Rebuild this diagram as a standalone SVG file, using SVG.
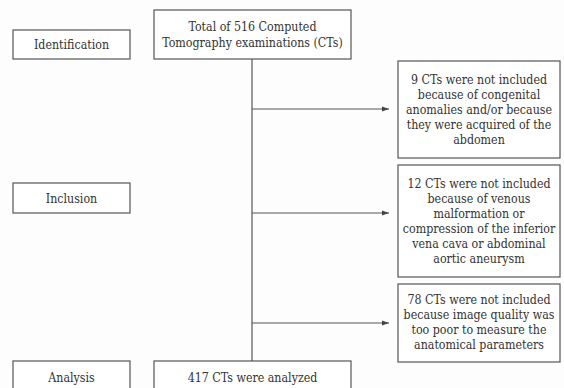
<svg xmlns="http://www.w3.org/2000/svg" width="564" height="388" viewBox="0 0 564 388">
<style>
.box{fill:#fff;stroke:#555;stroke-width:1.2}
.t{font-family:'DejaVu Serif Condensed','DejaVu Serif',serif;font-stretch:condensed;font-size:12.3px;fill:#333;text-anchor:middle}
.c{stroke:#555;stroke-width:1.2;fill:none}
</style>
<defs>
<marker id="ah" markerWidth="8" markerHeight="6" refX="7" refY="3" orient="auto" markerUnits="userSpaceOnUse">
<path d="M0,0.5 L7,3 L0,5.5 Z" fill="#444"/>
</marker>
</defs>
<rect width="564" height="388" fill="#fdfdfd"/>
<g id="connectors">
<line class="c" x1="252" y1="59" x2="252" y2="361"/>
<line class="c" x1="252" y1="109" x2="389" y2="109" marker-end="url(#ah)"/>
<line class="c" x1="252" y1="213" x2="389" y2="213" marker-end="url(#ah)"/>
<line class="c" x1="252" y1="323" x2="389" y2="323" marker-end="url(#ah)"/>
</g>
<g id="identification">
<rect class="box" x="13" y="30" width="117" height="29"/>
<text class="t" x="71.5" y="48.5">Identification</text>
</g>
<g id="inclusion">
<rect class="box" x="13" y="183" width="117" height="30"/>
<text class="t" x="71.5" y="202.5">Inclusion</text>
</g>
<g id="analysis">
<rect class="box" x="13" y="361" width="117" height="40"/>
<text class="t" x="71.5" y="382">Analysis</text>
</g>
<g id="total">
<rect class="box" x="154" y="10" width="197" height="49"/>
<text class="t" x="252.5" y="30.5">Total of 516 Computed</text>
<text class="t" x="252.5" y="46.5">Tomography examinations (CTs)</text>
</g>
<g id="analyzed">
<rect class="box" x="154" y="361" width="197" height="40"/>
<text class="t" x="252.5" y="382">417 CTs were analyzed</text>
</g>
<g id="excl1">
<rect class="box" x="398" y="61" width="162" height="97"/>
<text class="t" x="479" y="83.5">9 CTs were not included</text>
<text class="t" x="479" y="98.5">because of congenital</text>
<text class="t" x="479" y="113.5">anomalies and/or because</text>
<text class="t" x="479" y="128.5">they were acquired of the</text>
<text class="t" x="479" y="143.5">abdomen</text>
</g>
<g id="excl2">
<rect class="box" x="398" y="165" width="162" height="112"/>
<text class="t" x="479" y="187.5">12 CTs were not included</text>
<text class="t" x="479" y="202.5">because of venous</text>
<text class="t" x="479" y="217.5">malformation or</text>
<text class="t" x="479" y="232.5">compression of the inferior</text>
<text class="t" x="479" y="247.5">vena cava or abdominal</text>
<text class="t" x="479" y="262.5">aortic aneurysm</text>
</g>
<g id="excl3">
<rect class="box" x="398" y="284" width="162" height="78"/>
<text class="t" x="479" y="303.5">78 CTs were not included</text>
<text class="t" x="479" y="318.5">because image quality was</text>
<text class="t" x="479" y="333.5">too poor to measure the</text>
<text class="t" x="479" y="348.5">anatomical parameters</text>
</g>
</svg>
